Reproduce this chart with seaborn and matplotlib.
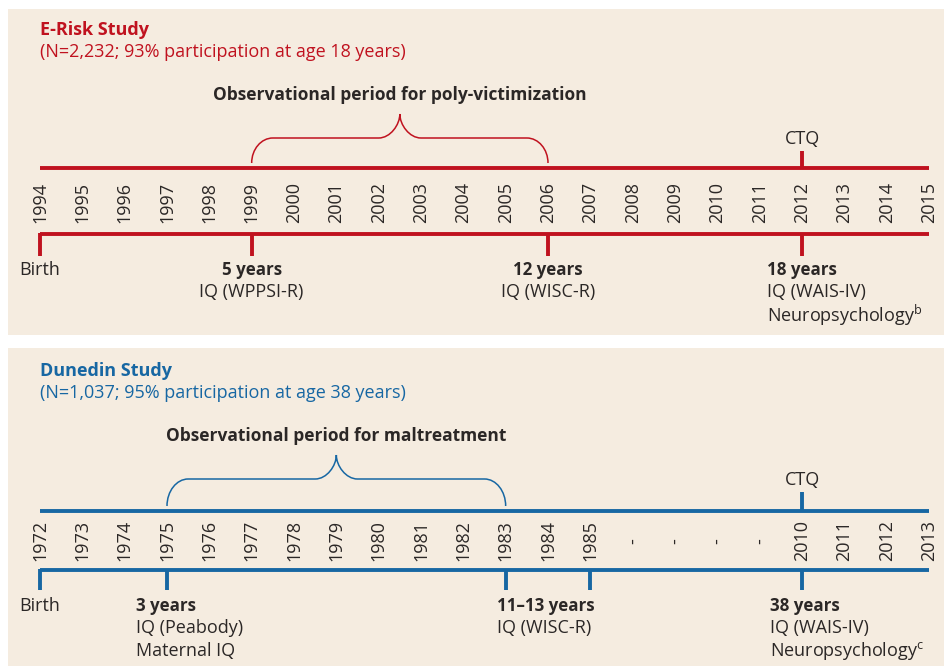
import matplotlib
matplotlib.use("Agg")
import matplotlib.pyplot as plt
from matplotlib.path import Path
from matplotlib.patches import PathPatch
import seaborn as sns
import pandas as pd

# ---- data -------------------------------------------------------------
erisk_years = [str(y) for y in range(1994, 2016)]
erisk_ctq = "2012"
erisk_period = ("1999", "2006")
erisk_marks = ["1994", "1999", "2006", "2012"]
erisk_heads = ["Birth", "5 years", "12 years", "18 years"]
erisk_notes = [[], ["IQ (WPPSI-R)"], ["IQ (WISC-R)"],
               ["IQ (WAIS-IV)", r"Neuropsychology$^{\mathregular{b}}$"]]

dunedin_years = [str(y) for y in range(1972, 1986)] + ["-", "-", "-", "-"] + \
                [str(y) for y in range(2010, 2014)]
dunedin_ctq = "2010"
dunedin_period = ("1975", "1983")
dunedin_marks = ["1972", "1975", "1983", "1985", "2010"]
dunedin_heads = ["Birth", "3 years", "11\u201313 years", None, "38 years"]
dunedin_notes = [[], ["IQ (Peabody)", "Maternal IQ"], ["IQ (WISC-R)"], [], 
                 ["IQ (WAIS-IV)", r"Neuropsychology$^{\mathregular{c}}$"]]

RED = "#c0121f"
BLUE = "#1767a3"
BG = "#f5ece0"
INK = "#2b2726"

sns.set_style("white")
plt.rcParams["font.family"] = ["Open Sans", "DejaVu Sans"]
plt.rcParams["mathtext.default"] = "regular"

fig = plt.figure(figsize=(9.45, 6.66), dpi=100)
W, H = 945, 666
SLOT = (929 - 40) / 21  # px per slot
FS = 13        # regular text
FS_HEAD = 12.2  # bold age headings
FS_TITLE = 13
FS_PERIOD = 12.5


def make_ax(top, bottom):
    ax = fig.add_axes([8 / W, (H - bottom) / H, (W - 8) / W, (bottom - top) / H])
    ax.set_xlim(-(40 - 8) / SLOT, 21 + (W - 929) / SLOT)
    ax.set_ylim(bottom, top)
    ax.axis("off")
    ax.add_patch(plt.Rectangle((0, 0), 1, 1, transform=ax.transAxes, color=BG, zorder=0))
    return ax


def brace(ax, x0, x1, y_end, y_flat, y_peak, color):
    r = 0.5
    k = 0.55
    xm = (x0 + x1) / 2
    verts = [(x0, y_end),
             (x0, y_end - k * (y_end - y_flat)), (x0 + r - k * r, y_flat), (x0 + r, y_flat),
             (xm - r, y_flat),
             (xm - r + k * r, y_flat), (xm, y_flat - k * (y_flat - y_peak)), (xm, y_peak),
             (xm, y_flat - k * (y_flat - y_peak)), (xm + r - k * r, y_flat), (xm + r, y_flat),
             (x1 - r, y_flat),
             (x1 - r + k * r, y_flat), (x1, y_end - k * (y_end - y_flat)), (x1, y_end)]
    codes = [Path.MOVETO] + [Path.CURVE4] * 3 + [Path.LINETO] + [Path.CURVE4] * 3 + \
            [Path.CURVE4] * 3 + [Path.LINETO] + [Path.CURVE4] * 3
    ax.add_patch(PathPatch(Path(verts, codes), fill=False, edgecolor=color, lw=1.1))


def panel(ax, color, title, subtitle, period_label, years, ctq, period, marks, heads, notes,
          offsets, y):
    slot = {lab: i for i, lab in enumerate(years)}
    n = len(years)
    ax.text(0, y["title"], title, color=color, fontsize=FS_TITLE, fontweight="bold", va="center")
    ax.text(0, y["sub"], subtitle, color=color, fontsize=FS, va="center")

    df = pd.DataFrame({"slot": list(range(n)) * 2,
                       "y": [y["top"]] * n + [y["bot"]] * n,
                       "line": ["top"] * n + ["bot"] * n})
    sns.lineplot(data=df, x="slot", y="y", units="line", estimator=None, color=color,
                 lw=2.8, ax=ax, legend=False, solid_capstyle="butt")

    for i, lab in enumerate(years):
        if lab == "-":
            ax.text(i, y["dash"], "-", rotation=90, ha="center", va="center", fontsize=FS, color=INK)
        else:
            ax.text(i, y["lab"], lab, rotation=90, ha="center", va="bottom", fontsize=FS, color=INK)

    c = slot[ctq]
    ax.vlines(c, y["ctq_tick"], y["top"], color=color, lw=2.8)
    ax.text(c, y["ctq"], "CTQ", ha="center", va="center", fontsize=FS, color=INK)

    x0, x1 = slot[period[0]], slot[period[1]]
    brace(ax, x0, x1, y["top"] - 5, y["flat"], y["peak"], color)
    ax.text((x0 + x1) / 2, y["plabel"], period_label, ha="center", va="center",
            fontsize=FS_PERIOD, fontweight="bold", color=INK)

    for m, head, note, off in zip(marks, heads, notes, offsets):
        xm = slot[m]
        ax.vlines(xm, y["bot"] - 1.4, y["tick_end"], color=color, lw=2.8)
        if head is None:
            continue
        ha = "center" if off is None else "left"
        xt = xm if off is None else xm + off / SLOT
        if head == "Birth":
            ax.text(xt, y["head"], head, ha=ha, va="center", fontsize=FS, color=INK)
        else:
            ax.text(xt, y["head"], head, ha=ha, va="center", fontsize=FS_HEAD, color=INK,
                    fontweight="bold")
        for j, line in enumerate(note):
            ax.text(xt, y["head"] + (j + 1) * y["gap"], line, ha=ha, va="center",
                    fontsize=FS, color=INK)


ax1 = make_ax(9, 335)
panel(ax1, RED, "E-Risk Study", "(N=2,232; 93% participation at age 18 years)",
      "Observational period for poly-victimization",
      erisk_years, erisk_ctq, erisk_period, erisk_marks, erisk_heads, erisk_notes,
      [None, None, None, -35],
      dict(title=30, sub=52, plabel=95, peak=114, flat=138, ctq=139, ctq_tick=151,
           top=168, lab=223, dash=202, bot=234, tick_end=256, head=270, gap=22.5))

ax2 = make_ax(348, 666)
panel(ax2, BLUE, "Dunedin Study", "(N=1,037; 95% participation at age 38 years)",
      "Observational period for maltreatment",
      dunedin_years, dunedin_ctq, dunedin_period, dunedin_marks, dunedin_heads, dunedin_notes,
      [None, -31, -9, None, -32],
      dict(title=371, sub=393, plabel=436, peak=455, flat=479, ctq=480, ctq_tick=492,
           top=511, lab=561, dash=541, bot=570, tick_end=590, head=606, gap=22.5))

fig.savefig("out.png", dpi=100, facecolor="white")
